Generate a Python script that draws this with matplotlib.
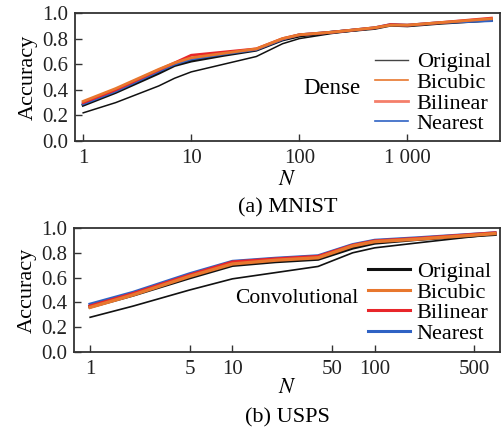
import numpy as np
import matplotlib
matplotlib.use('Agg')
import matplotlib.pyplot as plt
from matplotlib.ticker import FixedLocator, NullLocator, FixedFormatter

plt.rcParams['font.family'] = ['Liberation Serif', 'DejaVu Serif']
plt.rcParams['mathtext.fontset'] = 'stix'

# (a) MNIST, dense network
N_mnist = [1, 2, 5, 7, 10, 20, 40, 70, 100, 200, 500, 700, 1000, 2000, 6000]
mnist_base = [0.22, 0.30, 0.43, 0.49, 0.54, 0.60, 0.66, 0.76, 0.80, 0.84, 0.88, 0.905, 0.90, 0.92, 0.94]
mnist_orig = [0.28, 0.38, 0.53, 0.59, 0.625, 0.67, 0.71, 0.79, 0.82, 0.85, 0.88, 0.905, 0.90, 0.92, 0.945]
mnist_bicubic = [0.31, 0.41, 0.56, 0.61, 0.65, 0.685, 0.72, 0.80, 0.83, 0.85, 0.885, 0.905, 0.905, 0.925, 0.955]
mnist_bilinear = [0.30, 0.40, 0.555, 0.61, 0.67, 0.695, 0.72, 0.80, 0.83, 0.85, 0.885, 0.91, 0.905, 0.925, 0.96]
mnist_nearest = [0.29, 0.39, 0.545, 0.60, 0.64, 0.68, 0.715, 0.795, 0.83, 0.85, 0.885, 0.91, 0.905, 0.925, 0.94]

# (b) USPS, convolutional network
N_usps = [1, 2, 5, 10, 20, 40, 70, 100, 200, 700]
usps_base = [0.28, 0.37, 0.50, 0.59, 0.64, 0.69, 0.80, 0.84, 0.88, 0.95]
usps_orig = [0.365, 0.46, 0.60, 0.70, 0.73, 0.75, 0.84, 0.88, 0.91, 0.95]
usps_bicubic = [0.36, 0.46, 0.61, 0.71, 0.74, 0.76, 0.855, 0.89, 0.91, 0.955]
usps_bilinear = [0.37, 0.47, 0.62, 0.725, 0.75, 0.77, 0.86, 0.895, 0.915, 0.96]
usps_nearest = [0.385, 0.48, 0.63, 0.73, 0.755, 0.775, 0.865, 0.90, 0.92, 0.96]

c_orig = '#111111'
c_bicubic = '#E8772E'
c_bilinear_a = '#F47F6A'
c_bilinear_b = '#E8262A'
c_nearest = '#2F62C4'

fig = plt.figure(figsize=(5.04, 4.30), dpi=100)
ax1 = fig.add_axes([75/504, 1-141/430, 425/504, 128/430])
ax2 = fig.add_axes([74/504, 1-352/430, 426/504, 124/430])

# top panel
ax1.plot(N_mnist, mnist_base, color=c_orig, lw=1.1)
ax1.plot(N_mnist, mnist_orig, color=c_orig, lw=2.2)
ax1.plot(N_mnist, mnist_nearest, color=c_nearest, lw=2)
ax1.plot(N_mnist, mnist_bilinear, color=c_bilinear_b, lw=2)
ax1.plot(N_mnist, mnist_bicubic, color=c_bicubic, lw=2)
h1 = [plt.Line2D([], [], color='#444444', lw=1),
      plt.Line2D([], [], color=c_bicubic, lw=1.2),
      plt.Line2D([], [], color=c_bilinear_a, lw=2),
      plt.Line2D([], [], color=c_nearest, lw=1.2)]
ax1.legend(h1, ['Original', 'Bicubic', 'Bilinear', 'Nearest'], loc='lower right',
           bbox_to_anchor=(1.01, -0.05), frameon=False, fontsize=16,
           handlelength=1.5, handletextpad=0.4, labelspacing=0.0, borderaxespad=0.2)
ax1.text(110, 0.41, 'Dense', fontsize=16.5, va='center', ha='left')
ax1.set_xscale('log')
ax1.set_xlim(0.84, 7200)
ax1.xaxis.set_major_locator(FixedLocator([1, 10, 100, 1000]))
ax1.xaxis.set_major_formatter(FixedFormatter(['1', '10', '100', '1 000']))
ax1.xaxis.set_minor_locator(NullLocator())
ax1.set_xlabel('$N$', fontsize=16, labelpad=2)
ax1.text(0.5, -0.45, '(a) MNIST', transform=ax1.transAxes, ha='center', va='top', fontsize=16)

# bottom panel
ax2.plot(N_usps, usps_base, color=c_orig, lw=1.2)
ax2.plot(N_usps, usps_orig, color=c_orig, lw=2.6)
ax2.plot(N_usps, usps_nearest, color=c_nearest, lw=2.4)
ax2.plot(N_usps, usps_bilinear, color=c_bilinear_b, lw=2.4)
ax2.plot(N_usps, usps_bicubic, color=c_bicubic, lw=2.4)
h2 = [plt.Line2D([], [], color=c_orig, lw=2.2),
      plt.Line2D([], [], color=c_bicubic, lw=2.2),
      plt.Line2D([], [], color=c_bilinear_b, lw=2.2),
      plt.Line2D([], [], color=c_nearest, lw=2.2)]
ax2.legend(h2, ['Original', 'Bicubic', 'Bilinear', 'Nearest'], loc='lower right',
           bbox_to_anchor=(1.01, -0.04), frameon=False, fontsize=16,
           handlelength=1.9, handletextpad=0.3, labelspacing=0.0, borderaxespad=0.2)
ax2.text(10.5, 0.435, 'Convolutional', fontsize=15.5, va='center', ha='left')
ax2.set_xscale('log')
ax2.set_xlim(0.77, 760)
ax2.xaxis.set_major_locator(FixedLocator([1, 5, 10, 50, 100, 500]))
ax2.xaxis.set_major_formatter(FixedFormatter(['1', '5', '10', '50', '100', '500']))
ax2.xaxis.set_minor_locator(NullLocator())
ax2.set_xlabel('$N$', fontsize=16, labelpad=0)
ax2.text(0.5, -0.45, '(b) USPS', transform=ax2.transAxes, ha='center', va='top', fontsize=16)

for ax in (ax1, ax2):
    ax.set_ylim(0, 1.0)
    ax.set_yticks([0.0, 0.2, 0.4, 0.6, 0.8, 1.0])
    ax.set_yticklabels(['0.0', '0.2', '0.4', '0.6', '0.8', '1.0'])
    ax.set_ylabel('Accuracy', fontsize=16, labelpad=3)
    ax.tick_params(direction='in', length=5, width=1, labelsize=15, colors='#333333', labelcolor='#222222')
    ax.tick_params(axis='x', pad=6)
    ax.tick_params(axis='y', pad=5)
    for s in ax.spines.values():
        s.set_linewidth(1.3)
        s.set_color('#333333')

fig.savefig('out.png', dpi=100)
